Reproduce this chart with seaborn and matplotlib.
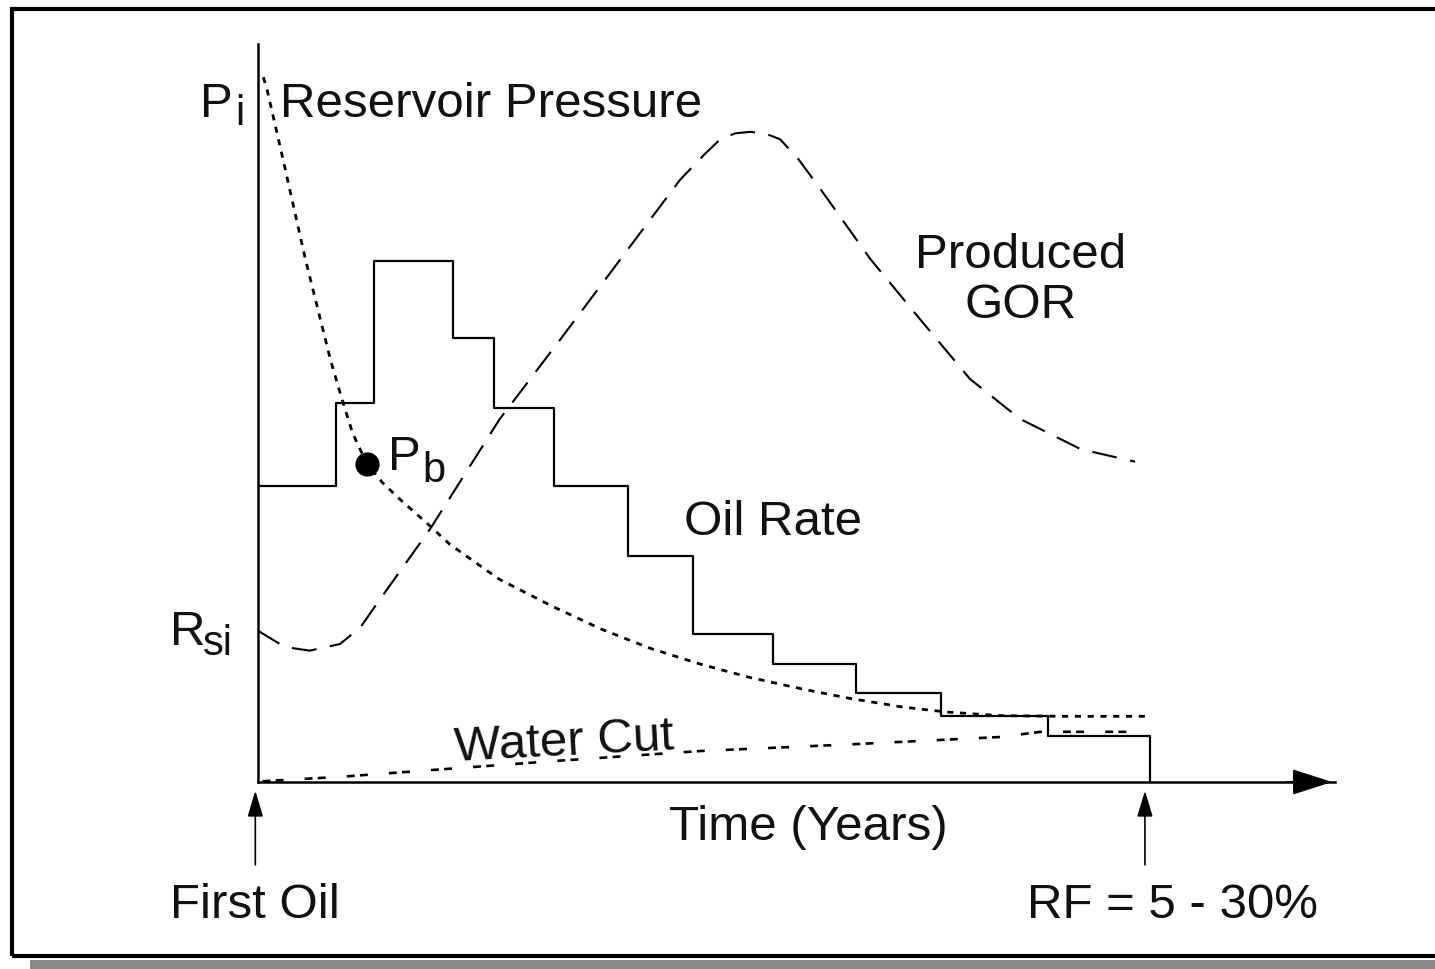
import matplotlib.pyplot as plt
import pandas as pd
import seaborn as sns
from matplotlib.patches import Rectangle

# oil rate: step edges (years) and rate on each step (relative units)
step_years = [0, 0.87, 1.30, 2.19, 2.65, 3.32, 4.15, 4.88, 5.77, 6.70, 7.66, 8.85, 10.0]
oil_rate = [40.1, 51.4, 70.6, 60.2, 50.7, 40.1, 30.6, 20.1, 16.0, 12.1, 8.9, 6.2, 0.0]

# reservoir pressure (dotted)
pressure_years = [0.06, 0.10, 0.28, 0.53, 0.81, 0.94, 1.06, 1.22, 1.40, 1.60,
                  1.90, 2.15, 2.70, 3.30, 3.85, 4.40, 4.95, 5.50, 6.10, 6.60,
                  7.20, 7.70, 8.30, 9.00, 9.94]
pressure = [95.5, 93.9, 84.4, 70.9, 57.3, 51.9, 47.3, 43.1, 40.5, 38.2,
            35.0, 32.2, 27.5, 23.8, 20.7, 18.1, 16.0, 14.2, 12.6, 11.4,
            10.2, 9.5, 9.0, 8.9, 8.9]

# produced GOR (dashed)
gor_years = [0.0, 0.30, 0.58, 0.92, 1.15, 1.37, 1.93, 2.71, 3.39, 4.06, 4.73,
             5.00, 5.18, 5.35, 5.52, 5.70, 5.85, 6.05, 6.30, 6.86, 7.42,
             7.98, 8.54, 9.22, 9.83]
gor = [20.5, 18.3, 17.8, 18.7, 21.0, 24.8, 34.3, 49.2, 60.0, 70.8, 81.6,
       85.0, 87.1, 87.9, 88.1, 87.8, 87.1, 84.5, 80.4, 70.9, 62.7,
       54.6, 49.2, 45.1, 43.4]

# water cut
wc_years = [0.05, 0.92, 2.15, 3.27, 4.96, 6.64, 8.32, 8.77, 9.94]
water_cut = [0.1, 0.7, 1.8, 2.8, 4.2, 5.1, 6.1, 6.8, 6.8]

pb_year, pb_value = 1.22, 43.1

sns.set_style("white")
plt.rcParams['font.family'] = ['Liberation Sans', 'DejaVu Sans']

fig = plt.figure(figsize=(14.35, 9.7), dpi=100)
ax = fig.add_axes([258 / 1435, (970 - 783) / 970, (1335 - 258) / 1435, (783 - 45) / 970])
ax.set_xlim(0, 12.07)
ax.set_ylim(0, 100)

oil = pd.DataFrame({'year': step_years, 'rate': oil_rate})
sns.lineplot(data=oil, x='year', y='rate', ax=ax, color='black', lw=1.6,
             estimator=None, sort=False, drawstyle='steps-post')
sns.lineplot(x=pressure_years, y=pressure, ax=ax, color='black', lw=2.0,
             estimator=None, sort=False, linestyle=(0, (2.2, 2.4)))
sns.lineplot(x=gor_years, y=gor, ax=ax, color='black', lw=1.5,
             estimator=None, sort=False, linestyle=(0, (12, 6.5)))
sns.lineplot(x=wc_years, y=water_cut, ax=ax, color='black', lw=1.9,
             estimator=None, sort=False, linestyle=(0, (3, 2, 3, 8)))
sns.scatterplot(x=[pb_year], y=[pb_value], ax=ax, color='black', s=260,
                edgecolor='black', zorder=5)

for side in ['top', 'right']:
    ax.spines[side].set_visible(False)
for side in ['left', 'bottom']:
    ax.spines[side].set_linewidth(1.8)
    ax.spines[side].set_color('black')
ax.set_xticks([])
ax.set_yticks([])
ax.set_xlabel('')
ax.set_ylabel('')

# x axis arrowhead
ax.annotate('', xy=(12.07, 0), xytext=(11.5, 0), annotation_clip=False,
            arrowprops=dict(arrowstyle='-|>,head_length=1.25,head_width=0.4',
                            color='black', lw=1.5, mutation_scale=20))
# First Oil / RF arrows
for xa in [-0.03, 9.94]:
    ax.annotate('', xy=(xa, -0.8), xytext=(xa, -11.6), annotation_clip=False,
                arrowprops=dict(arrowstyle='-|>,head_length=1.0,head_width=0.3',
                                color='black', lw=1.2, mutation_scale=16))

fs = 35.5
sub = 30
kw = dict(color='#111111', clip_on=False, va='baseline', ha='left')
ax.text(-0.65, 90.2, 'P', fontsize=fs, **kw)
ax.text(-0.25, 89.2, 'i', fontsize=sub, **kw)
ax.text(0.25, 90.2, 'Reservoir Pressure', fontsize=fs, **kw)
ax.text(8.55, 69.8, 'Produced', fontsize=fs, **{**kw, 'ha': 'center'})
ax.text(8.55, 63.0, 'GOR', fontsize=fs, **{**kw, 'ha': 'center'})
ax.text(4.77, 33.6, 'Oil Rate', fontsize=fs, **kw)
ax.text(1.46, 42.4, 'P', fontsize=fs, **kw)
ax.text(1.84, 40.8, 'b', fontsize=sub, **kw)
ax.text(-0.99, 18.7, 'R', fontsize=fs, **kw)
ax.text(-0.62, 17.3, 'si', fontsize=sub, **kw)
ax.text(2.21, 3.0, 'Water Cut', fontsize=fs, rotation=3, rotation_mode='anchor', **kw)
ax.text(6.17, -7.7, 'Time (Years)', fontsize=fs, **{**kw, 'ha': 'center'})
ax.text(-0.03, -18.3, 'First Oil', fontsize=fs, **{**kw, 'ha': 'center'})
ax.text(10.25, -18.3, 'RF = 5 - 30%', fontsize=fs, **{**kw, 'ha': 'center'})

# picture frame with shadow
fig.patches.append(Rectangle((30 / 1435, 0), 1, 9 / 970, transform=fig.transFigure,
                             facecolor='#8a8a8a', edgecolor='none', zorder=0))
fig.patches.append(Rectangle((12 / 1435, 13 / 970), 1.2, (957 - 10) / 970,
                             transform=fig.transFigure, facecolor='none',
                             edgecolor='black', lw=3, zorder=1))

fig.savefig('out.png', dpi=100)
